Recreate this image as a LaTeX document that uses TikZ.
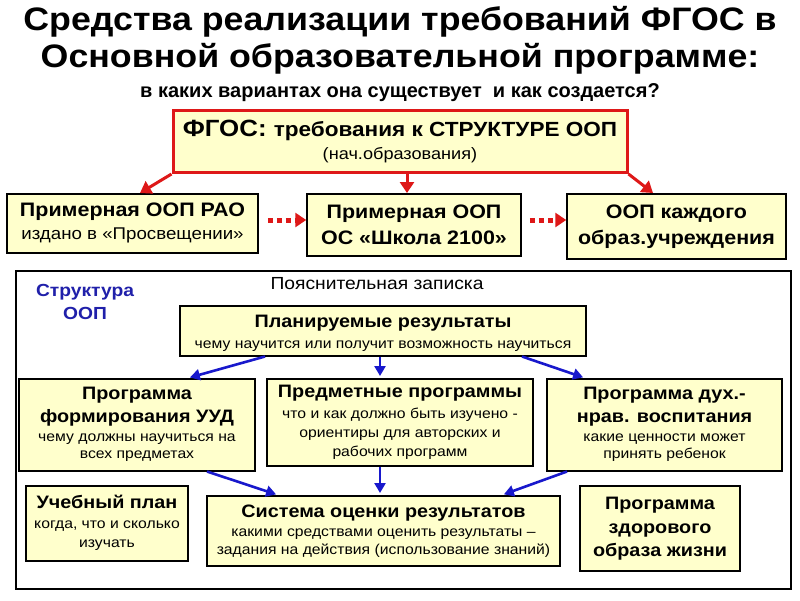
\documentclass[tikz,border=0pt]{standalone}
\usepackage{fontspec}
\setmainfont[FakeStretch=1.1]{Liberation Sans}
\newfontfamily\subf{Liberation Sans}
\usetikzlibrary{arrows.meta,calc}
\definecolor{boxfill}{RGB}{255,255,204}
\definecolor{fred}{RGB}{222,24,24}
\definecolor{fblue}{RGB}{24,24,204}
\definecolor{tblue}{RGB}{32,32,170}
\newcommand{\fs}[1]{\fontsize{#1}{#1}\selectfont}
\begin{document}
\begin{tikzpicture}[x=1pt,y=-1pt,
  tight/.style={font={\baselineskip=0pt\lineskiplimit=-500pt\lineskip=0pt}},
  ybox/.style={tight, draw=black, line width=1.5pt, fill=boxfill, align=center, inner sep=0pt, anchor=north},
  redbox/.style={tight, draw=fred, line width=3pt, fill=boxfill, align=center, inner sep=0pt, anchor=north},
  redarrow/.style={draw=fred, line width=3pt, -{Triangle[length=11pt,width=14pt]}},
  dotarrow/.style={draw=fred, line width=5pt, dash pattern=on 5pt off 4pt, -{Triangle[length=11pt,width=14pt]}},
  bluearrow/.style={draw=fblue, line width=2.6pt, -{Triangle[length=10pt,width=11pt]}, shorten >=2pt},
  ttl/.style={font=\bfseries\fs{32.5}, inner sep=0pt, anchor=base},
  lbl/.style={tight, inner sep=0pt, align=center}
]
\useasboundingbox (0,0) rectangle (800,600);
\fill[white] (0,0) rectangle (800,600);

% Title
\node[ttl] (t1) at (400,30) {Средства реализации требований ФГОС в};
\node[ttl] (t2) at (400,67) {Основной образовательной программе:};
\node[inner sep=0pt, anchor=base, font=\subf\bfseries\fs{20}] (t3) at (400,97) {в каких вариантах она существует\ \ и как создается?};

% FGOS box
\node[redbox, minimum width=454pt, minimum height=62pt] (fgos) at (400,109)
  {{\bfseries\fs{23.5}ФГОС: }{\bfseries\fs{20.5}требования к СТРУКТУРЕ ООП}\\[23pt]
   {\fs{16.5}(нач.образования)}};

% Row 2
\node[ybox, minimum width=251pt, minimum height=59pt] (b1) at (132.5,193)
  {{\bfseries\fs{19.5}Примерная ООП РАО}\\[23pt]{\fs{17}издано в «Просвещении»}};
\node[ybox, minimum width=214pt, minimum height=62pt] (b2) at (414,193)
  {{\bfseries\fs{19.5}Примерная ООП}\\[26pt]{\bfseries\fs{19.5}ОС «Школа 2100»}};
\node[ybox, minimum width=219pt, minimum height=65pt] (b3) at (676.5,193)
  {{\bfseries\fs{19.5}ООП каждого}\\[26pt]{\bfseries\fs{19.5}образ.учреждения}};

\draw[redarrow] (fgos.south west) -- ([xshift=7.5pt]b1.north);
\draw[redarrow] ([xshift=7pt]fgos.south) -- ([xshift=-7pt]b2.north);
\draw[redarrow] (fgos.south east) -- ([xshift=-23.5pt]b3.north);
\draw[dotarrow] ($(b1.north east)+(9,27)$) -- ($(b1.north east -| b2.west)+(0,27)$);
\draw[dotarrow] ($(b2.north east)+(8,27)$) -- ($(b2.north east -| b3.west)+(0,27)$);

% Big frame
\node[draw=black, line width=1.5pt, minimum width=775pt, minimum height=318pt, anchor=north west, inner sep=0pt] (big) at (15,270) {};
\node[inner sep=0pt, anchor=base, font=\fs{17.5}] (pz) at (377,289) {Пояснительная записка};
\node[lbl, anchor=base, text=tblue] (str) at (85,319)
  {{\bfseries\fs{17.5}Структура}\\[23pt]{\bfseries\fs{17.5}ООП}};

% Planned results
\node[ybox, minimum width=406pt, minimum height=50pt] (pr) at (383,305)
  {{\bfseries\fs{18}Планируемые результаты}\\[21pt]{\fs{14.3}чему научится или получит возможность научиться}\\[-2pt]};

% Row 3
\node[ybox, minimum width=236pt, minimum height=92pt] (l3) at (137,378)
  {{\bfseries\fs{18}Программа}\\[23pt]{\bfseries\fs{18}формирования УУД}\\[19pt]
   {\fs{14.3}чему должны научиться на}\\[17pt]{\fs{14.3}всех предметах}};
\node[ybox, minimum width=266pt, minimum height=87pt] (m3) at (400,378)
  {{\bfseries\fs{18}Предметные программы}\\[21pt]{\fs{14.3}что и как должно быть изучено -}\\[19pt]
   {\fs{14.3}ориентиры для авторских и}\\[19pt]{\fs{14.3}рабочих программ}};
\node[ybox, minimum width=235pt, minimum height=92pt] (r3) at (664.5,378)
  {{\bfseries\fs{18}Программа дух.-}\\[23pt]{\bfseries\fs{18}нрав. воспитания}\\[19pt]
   {\fs{14.3}какие ценности может}\\[17pt]{\fs{14.3}принять ребенок}};

\draw[bluearrow] ([xshift=-118pt]pr.south) -- ([xshift=51pt]l3.north);
\draw[bluearrow] ([xshift=-3pt]pr.south) -- ([xshift=-20pt]m3.north);
\draw[bluearrow] ([xshift=139pt]pr.south) -- ([xshift=-79.5pt]r3.north);

% Row 4
\node[ybox, minimum width=162pt, minimum height=75pt] (up) at (107,485)
  {{\bfseries\fs{18}Учебный план}\\[20pt]{\fs{14.3}когда, что и сколько}\\[19pt]{\fs{14.3}изучать}};
\node[ybox, minimum width=353pt, minimum height=70pt] (so) at (383.5,495)
  {{\bfseries\fs{18}Система оценки результатов}\\[19pt]{\fs{14.3}какими средствами оценить результаты –}\\[18pt]
   {\fs{14.3}задания на действия (использование знаний)}};
\node[ybox, minimum width=160pt, minimum height=85pt] (zd) at (660,485)
  {{\bfseries\fs{18}Программа}\\[24pt]{\bfseries\fs{18}здорового}\\[23pt]{\bfseries\fs{18}образа жизни}};

\draw[bluearrow] ([xshift=70pt]l3.south) -- ([xshift=-105.5pt]so.north);
\draw[bluearrow] ([xshift=-20pt]m3.south) -- ([xshift=-3.5pt]so.north);
\draw[bluearrow] ([xshift=-97.5pt]r3.south) -- ([xshift=118.5pt]so.north);
\end{tikzpicture}
\end{document}
